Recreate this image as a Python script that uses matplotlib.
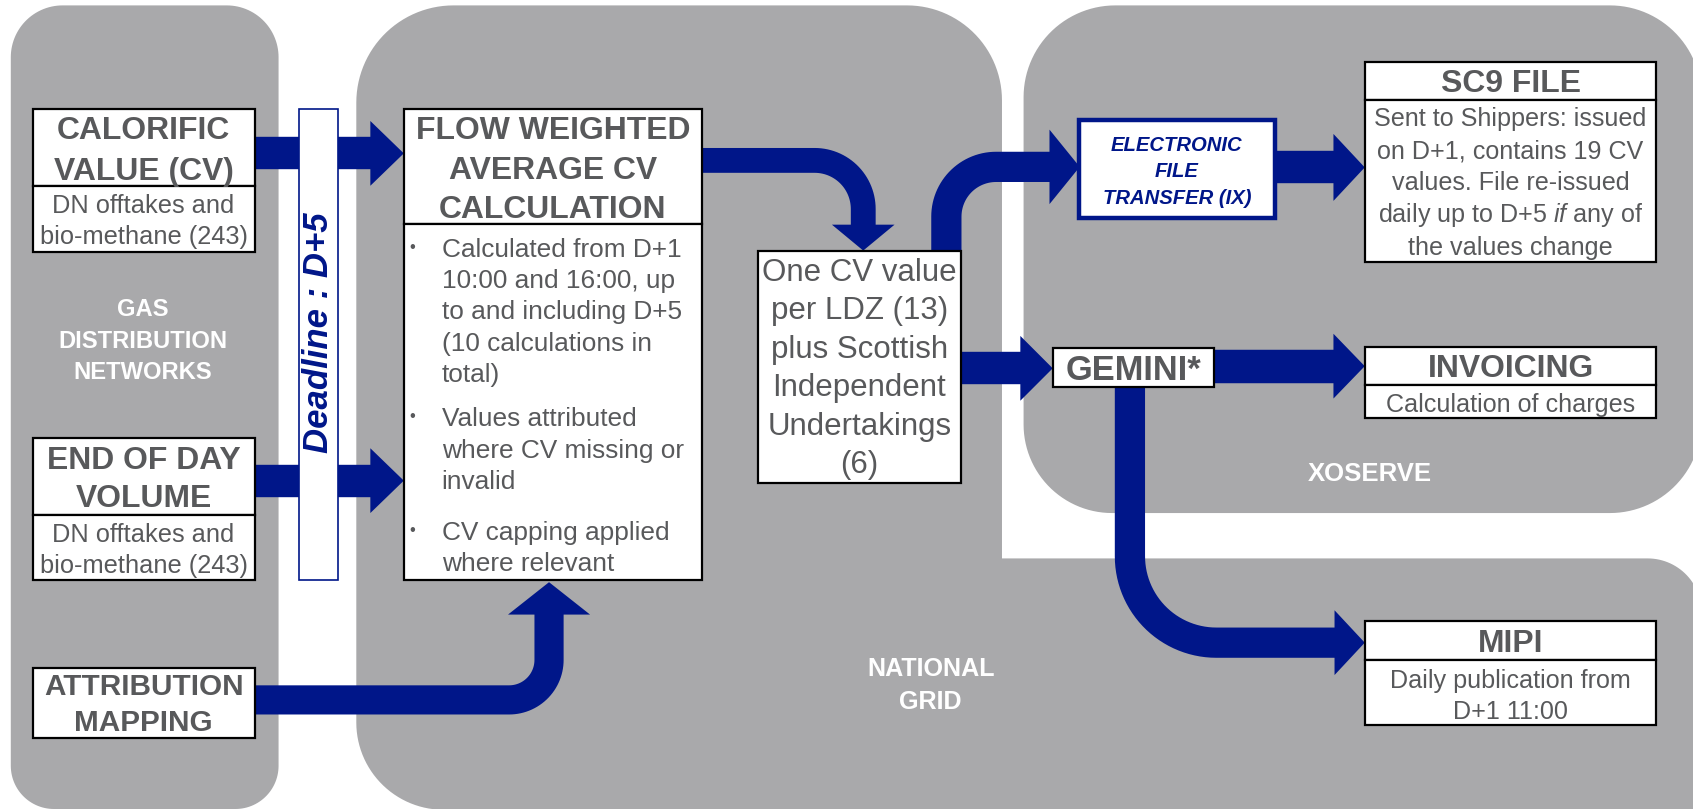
import numpy as np
import matplotlib
matplotlib.use("Agg")
import matplotlib.pyplot as plt
from matplotlib.patches import Polygon, Rectangle

plt.rcParams['font.family'] = ['Liberation Sans', 'DejaVu Sans']
plt.rcParams['mathtext.fontset'] = 'custom'
plt.rcParams['mathtext.rm'] = 'Liberation Sans'
plt.rcParams['mathtext.it'] = 'Liberation Sans:italic'

# --- text content ---
panel_labels = ["GAS\nDISTRIBUTION\nNETWORKS", "NATIONAL\nGRID", "XOSERVE"]
cv_title = "CALORIFIC\nVALUE (CV)"
cv_body = "DN offtakes and\nbio-methane (243)"
eod_title = "END OF DAY\nVOLUME"
eod_body = "DN offtakes and\nbio-methane (243)"
attr_title = "ATTRIBUTION\nMAPPING"
deadline_text = "Deadline : D+5"
fwa_title = "FLOW WEIGHTED\nAVERAGE CV\nCALCULATION"
fwa_bullets = ["Calculated from D+1\n10:00 and 16:00, up\nto and including D+5\n(10 calculations in\ntotal)",
               "Values attributed\nwhere CV missing or\ninvalid",
               "CV capping applied\nwhere relevant"]
onecv_text = "One CV value\nper LDZ (13)\nplus Scottish\nIndependent\nUndertakings\n(6)"
eft_text = "ELECTRONIC\nFILE\nTRANSFER (IX)"
sc9_title = "SC9 FILE"
sc9_body = "Sent to Shippers: issued\non D+1, contains 19 CV\nvalues. File re-issued\ndaily up to D+5 $\\mathit{if}$ any of\nthe values change"
gemini_text = "GEMINI*"
inv_title = "INVOICING"
inv_body = "Calculation of charges"
mipi_title = "MIPI"
mipi_body = "Daily publication from\nD+1 11:00"

# --- style ---
W, H = 1568, 749
PT = 1693 / 1568 * 0.72          # points per drawing unit
GRAY = '#a9a9ab'
BLUE = '#001689'
TXT = '#58595b'

fig = plt.figure(figsize=(16.93, 8.09), dpi=100)
ax = fig.add_axes([0, 0, 1, 1])
ax.set_xlim(0, W)
ax.set_ylim(H, 0)
ax.axis('off')


def rounded_poly(corners, radii, n=30):
    pts = []
    m = len(corners)
    for i in range(m):
        p = np.array(corners[i], float)
        a = np.array(corners[i - 1], float)
        b = np.array(corners[(i + 1) % m], float)
        r = radii[i]
        if r == 0:
            pts.append(p)
            continue
        d1 = (p - a) / np.linalg.norm(p - a)
        d2 = (b - p) / np.linalg.norm(b - p)
        c = p - d1 * r + d2 * r
        for t in np.linspace(0, np.pi / 2, n):
            pts.append(c - d2 * r * np.cos(t) + d1 * r * np.sin(t))
    return np.array(pts)


def rounded_path(points, r, n=30):
    pts = [np.array(points[0], float)]
    for i in range(1, len(points) - 1):
        a, p, b = (np.array(points[j], float) for j in (i - 1, i, i + 1))
        d1 = (p - a) / np.linalg.norm(p - a)
        d2 = (b - p) / np.linalg.norm(b - p)
        c = p - d1 * r + d2 * r
        for t in np.linspace(0, np.pi / 2, n):
            pts.append(c - d2 * r * np.cos(t) + d1 * r * np.sin(t))
    pts.append(np.array(points[-1], float))
    return np.array(pts)


def arrow(points, width, head_half, head_len, radius=0, z=2):
    pts = np.array(points, float)
    tip = pts[-1]
    d = (pts[-1] - pts[-2]) / np.linalg.norm(pts[-1] - pts[-2])
    base = tip - d * head_len
    body = list(pts[:-1]) + [base + d * 2]
    path = rounded_path(body, radius) if len(body) > 2 else np.array(body)
    ax.plot(path[:, 0], path[:, 1], color=BLUE, lw=width * PT,
            solid_capstyle='butt', solid_joinstyle='round', zorder=z)
    perp = np.array([-d[1], d[0]])
    ax.add_patch(Polygon([base + perp * head_half, tip, base - perp * head_half],
                         closed=True, color=BLUE, lw=0, zorder=z))


def put_lines(x, y0, text, pitch, em, ha='center', **kw):
    for i, s in enumerate(text.split('\n')):
        ax.text(x, y0 + i * pitch + 0.09 * em, s, ha=ha, va='center',
                fontsize=em * PT, zorder=6, **kw)


def box(x0, x1, y0, y1, z=4, ec='black', lw=1.6):
    ax.add_patch(Rectangle((x0, y0), x1 - x0, y1 - y0, fc='white', ec=ec,
                           lw=lw, zorder=z))


# --- panels ---
ax.add_patch(Polygon(rounded_poly([(10, 5), (258, 5), (258, 749), (10, 749)],
                                  [48, 48, 40, 40]), color=GRAY, lw=0, zorder=0))
ax.add_patch(Polygon(rounded_poly([(330, 5), (928, 5), (928, 517), (1576, 517),
                                   (1576, 760), (330, 749)],
                                  [90, 88, 0, 50, 0, 80]), color=GRAY, lw=0, zorder=0))
ax.add_patch(Polygon(rounded_poly([(948, 5), (1576, 5), (1576, 475), (948, 475)],
                                  [85, 85, 85, 82]), color=GRAY, lw=0, zorder=0))

put_lines(132, 285, panel_labels[0], 29, 22, color='white', fontweight='bold')
put_lines(862, 617.5, panel_labels[1], 30.5, 23.3, color='white', fontweight='bold')
put_lines(1269, 437, panel_labels[2], 30, 23.8, color='white', fontweight='bold')

# --- arrows ---
arrow([(236, 142), (374, 142)], 30, 30, 31, z=1.5)
arrow([(236, 445), (374, 445)], 30, 30, 31, z=1.5)
arrow([(236, 648), (508.5, 648), (508.5, 539)], 27, 38, 30, radius=37)
arrow([(650, 148.5), (799.5, 148.5), (799.5, 232)], 23, 29, 24, radius=45)
arrow([(876.5, 232), (876.5, 154.5), (1000, 154.5)], 28, 34.5, 28, radius=46)
arrow([(1181, 155), (1264, 155)], 30, 31, 29)
arrow([(890, 341), (975, 341)], 30, 30, 30)
arrow([(1124, 339), (1264, 339)], 31, 30, 29)
arrow([(1046.5, 358), (1046.5, 595), (1264, 595)], 28, 30, 28, radius=80)

# --- deadline bar ---
box(276.6, 313, 101, 537, z=3, ec=BLUE, lw=1.2)
ax.text(295, 308, deadline_text, rotation=90, ha='center', va='center',
        fontsize=25, fontweight='bold', fontstyle='italic', color=BLUE, zorder=6)

# --- left boxes ---
box(30.5, 236, 101, 172)
box(30.5, 236, 172, 233)
put_lines(133, 119, cv_title, 38, 29.5, color=TXT, fontweight='bold')
put_lines(133, 189, cv_body, 28.5, 23.5, color=TXT)

box(30.5, 236, 405.5, 477)
box(30.5, 236, 477, 537)
put_lines(133, 424, eod_title, 35, 29.5, color=TXT, fontweight='bold')
put_lines(133, 493, eod_body, 29, 23.5, color=TXT)

box(30.5, 236, 618, 683)
put_lines(133, 634, attr_title, 33, 27.5, color=TXT, fontweight='bold')

# --- flow weighted average ---
box(374, 650, 101, 207.5)
box(374, 650, 207.5, 537)
put_lines(512, 119, fwa_title, 36.5, 29.5, color=TXT, fontweight='bold')
for y0, b in zip([229, 386, 491], fwa_bullets):
    ax.text(379, y0, '•', ha='left', va='center', fontsize=12, color=TXT, zorder=6)
    put_lines(409, y0, b, 29, 24.3, ha='left', color=TXT)

# --- one CV ---
box(702, 890, 232, 447)
put_lines(796, 250, onecv_text, 35.6, 29, color=TXT)

# --- electronic file transfer ---
box(999, 1181, 111, 202, ec=BLUE, lw=3.2)
put_lines(1090, 133, eft_text, 24.5, 18.8, color=BLUE, fontweight='bold',
          fontstyle='italic')

# --- SC9 ---
box(1264.5, 1534, 57, 92.6)
box(1264.5, 1534, 92.6, 243)
put_lines(1399, 75, sc9_title, 0, 29.5, color=TXT, fontweight='bold')
put_lines(1399, 108, sc9_body, 29.8, 23.3, color=TXT)

# --- GEMINI ---
box(975, 1124, 322, 358)
put_lines(1050, 340, gemini_text, 0, 32, color=TXT, fontweight='bold')

# --- invoicing ---
box(1264.5, 1534, 321, 356.6)
box(1264.5, 1534, 356.6, 387)
put_lines(1399, 339, inv_title, 0, 29.5, color=TXT, fontweight='bold')
put_lines(1399, 373, inv_body, 0, 23.3, color=TXT)

# --- MIPI ---
box(1264.5, 1534, 575, 611)
box(1264.5, 1534, 611, 671.5)
put_lines(1399, 594, mipi_title, 0, 29.5, color=TXT, fontweight='bold')
put_lines(1399, 628, mipi_body, 29.5, 23.3, color=TXT)

fig.savefig('out.png', dpi=100)
